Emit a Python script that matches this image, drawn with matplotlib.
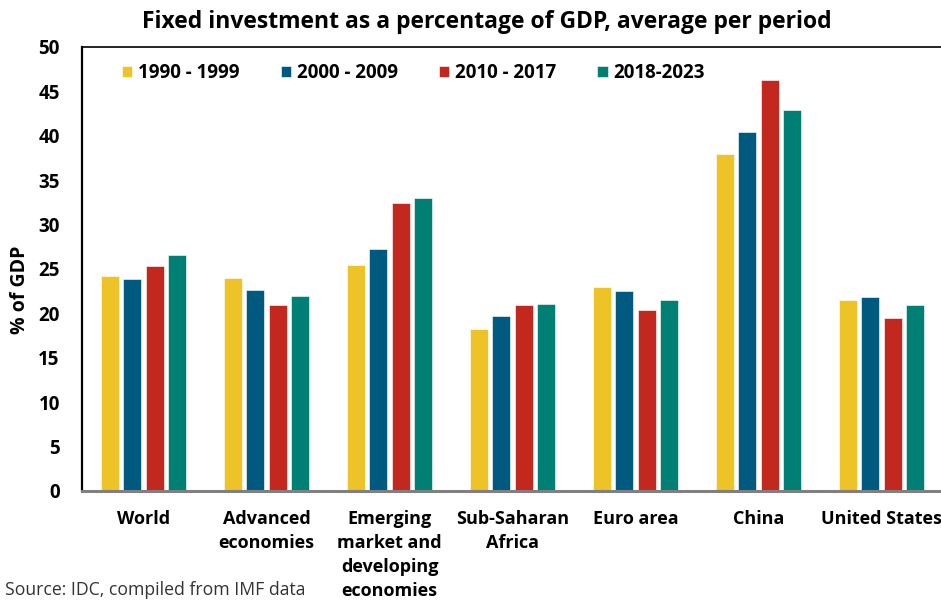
import numpy as np
import matplotlib.pyplot as plt

# Fixed investment as % of GDP, average per period
regions = ['World', 'Advanced\neconomies', 'Emerging\nmarket and\ndeveloping\neconomies',
           'Sub-Saharan\nAfrica', 'Euro area', 'China', 'United States']
periods = ['1990 - 1999', '2000 - 2009', '2010 - 2017', '2018-2023']
p1990 = [24.2, 24.0, 25.5, 18.2, 23.0, 37.9, 21.5]
p2000 = [23.9, 22.6, 27.3, 19.7, 22.5, 40.4, 21.9]
p2010 = [25.3, 21.0, 32.4, 20.9, 20.4, 46.3, 19.5]
p2018 = [26.6, 22.0, 33.0, 21.1, 21.5, 42.9, 20.9]
colors = ['#EDC328', '#005A80', '#C3281F', '#008075']

plt.rcParams['font.family'] = ['Open Sans', 'DejaVu Sans']

fig = plt.figure(figsize=(9.41, 6.01), dpi=100)
ax = fig.add_axes([82 / 941, 1 - 491 / 601, 861 / 941, 444 / 601])

x = np.arange(len(regions))
pitch = 0.181
width = 0.146
for i, (vals, lab) in enumerate(zip([p1990, p2000, p2010, p2018], periods)):
    ax.bar(x + (i - 1.5) * pitch, vals, width, color=colors[i], label=lab,
           edgecolor='white', linewidth=0.4)

ax.set_xlim(-0.5, 6.5)
ax.set_ylim(0, 50)
ax.set_yticks(range(0, 51, 5))
ax.set_xticks(x)
ax.set_xticklabels(regions, fontsize=13, fontweight='bold', linespacing=1.42, va='top')
ax.tick_params(axis='both', length=0)
ax.tick_params(axis='y', labelsize=13.5, pad=16)
ax.tick_params(axis='x', pad=14)
for t in ax.get_yticklabels():
    t.set_fontweight('bold')

ax.spines['right'].set_visible(False)
ax.spines['left'].set_linewidth(1.6)
ax.spines['top'].set_linewidth(1.2)
ax.spines['bottom'].set_color('#808080')
ax.spines['bottom'].set_linewidth(2.2)

ax.set_ylabel('% of GDP', fontsize=14, fontweight='bold')
ax.yaxis.set_label_coords(-52 / 861, 0.453)

fig.text(487 / 941, 1 - 22 / 601, 'Fixed investment as a percentage of GDP, average per period',
         ha='center', va='center', fontsize=16.5, fontweight='bold')

leg = ax.legend(loc='upper left', bbox_to_anchor=(122 / 941, 1 - 63 / 601),
                bbox_transform=fig.transFigure, ncol=4, frameon=False,
                borderpad=0, borderaxespad=0,
                handlelength=0.55, handleheight=0.55, handletextpad=0.3,
                columnspacing=2.2, prop={'weight': 'bold', 'size': 13.5})

fig.text(5 / 941, 2 / 601, 'Source: IDC, compiled from IMF data', ha='left', va='bottom',
         fontsize=12.7, color='#333333')

plt.savefig('out.png', dpi=100)
